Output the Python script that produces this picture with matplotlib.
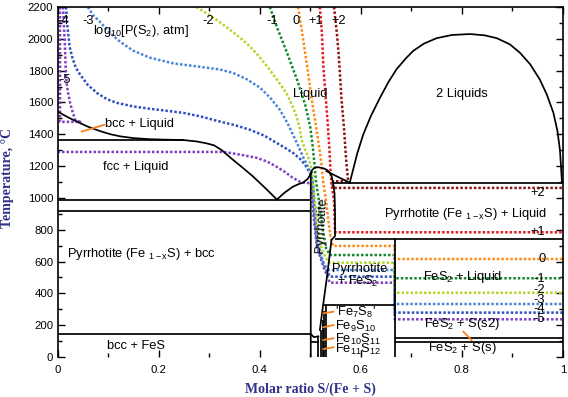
import matplotlib
matplotlib.use('Agg')
import matplotlib.pyplot as plt
from matplotlib.ticker import MultipleLocator, FixedLocator, FixedFormatter

plt.rcParams['font.family'] = ['Liberation Sans', 'DejaVu Sans']
plt.rcParams['mathtext.fontset'] = 'custom'
plt.rcParams['mathtext.rm'] = 'Liberation Sans'
plt.rcParams['mathtext.it'] = 'Liberation Sans:italic'
plt.rcParams['mathtext.bf'] = 'Liberation Sans:bold'

# ---------------- phase boundaries (x = S/(Fe+S), T in C) ----------------
liq_fe_x = [0.0, 0.02, 0.04, 0.06, 0.084, 0.105, 0.124, 0.15, 0.183, 0.215, 0.248, 0.275, 0.295,
            0.31, 0.325, 0.347, 0.367, 0.387, 0.41, 0.434]
liq_fe_t = [1543, 1508, 1477, 1448, 1420, 1400, 1387, 1376, 1369, 1366, 1364, 1355, 1343,
            1330, 1300, 1240, 1188, 1134, 1065, 990]
liq_pyr_x = [0.434, 0.45, 0.466, 0.478, 0.486, 0.495, 0.503]
liq_pyr_t = [990, 1035, 1071, 1088, 1096, 1120, 1160]
pyr_x = [0.501, 0.501, 0.504, 0.507, 0.510, 0.513, 0.517, 0.520, 0.527, 0.533, 0.538, 0.542, 0.545,
         0.548, 0.549, 0.549, 0.542, 0.534, 0.525, 0.519]
pyr_t = [0, 1160, 1176, 1186, 1191, 1193, 1192, 1190, 1185, 1176, 1160, 1140, 1094,
         1031, 900, 760, 736, 526, 316, 170]
liq_s_x = [0.532, 0.579]
liq_s_t = [1168, 1094]
dome_x = [0.578, 0.585, 0.593, 0.605, 0.620, 0.638, 0.655, 0.671, 0.690, 0.704, 0.725, 0.750, 0.780,
          0.816, 0.845, 0.869, 0.895, 0.915, 0.935, 0.954, 0.968, 0.981, 0.989, 0.994, 0.996, 0.998]
dome_t = [1094, 1180, 1280, 1400, 1515, 1630, 1730, 1810, 1880, 1925, 1970, 2004, 2024,
          2030, 2022, 2004, 1965, 1912, 1840, 1745, 1650, 1535, 1420, 1300, 1200, 1094]
iso_t = [1365, 990, 918, 145, 1094, 743, 327, 118, 96]
iso_x0 = [0.0, 0.0, 0.0, 0.0, 0.545, 0.549, 0.526, 0.667, 0.667]
iso_x1 = [0.25, 0.501, 0.501, 0.501, 1.0, 1.0, 0.667, 1.0, 1.0]
fes2_x = [0.667, 0.667]
fes2_t = [0, 743]
ord_x = [0.516, 0.522, 0.525, 0.528, 0.531]
ord_top = [128, 170, 233, 290, 327]
small_x = [0.501, 0.507, 0.516]
small_t = [145, 125, 130]
small2_x = [0.501, 0.516]
small2_t = [96, 96]

# ---------------- log10 P(S2) isobars ----------------
m5u_x = [0.005, 0.005, 0.045, 0.040, 0.035, 0.030, 0.025, 0.021, 0.018, 0.016, 0.015, 0.013, 0.011]
m5u_t = [2200, 1478, 1478, 1484, 1491, 1540, 1597, 1660, 1723, 1830, 1931, 2060, 2200]
m5_x = [0.0, 0.327, 0.341, 0.365, 0.394, 0.415, 0.434, 0.450, 0.463, 0.472, 0.480, 0.492, 0.503,
        0.506, 0.513, 0.526, 0.539, 0.667, 0.667, 1.0]
m5_t = [1289, 1289, 1283, 1270, 1252, 1228, 1195, 1163, 1132, 1115, 1101, 1094, 1092,
        904, 694, 568, 467, 467, 237, 237]
m4_x = [0.017, 0.019, 0.021, 0.024, 0.029, 0.036, 0.045, 0.060, 0.078, 0.098, 0.118, 0.150, 0.183,
        0.215, 0.248, 0.283, 0.316, 0.350, 0.381, 0.410, 0.430, 0.450, 0.466, 0.480, 0.490, 0.498, 0.503,
        0.505, 0.508, 0.514, 0.528, 0.539, 0.667, 0.667, 1.0]
m4_t = [2200, 2100, 2038, 1950, 1887, 1820, 1774, 1710, 1660, 1620, 1597, 1575, 1560,
        1548, 1535, 1512, 1484, 1458, 1428, 1390, 1352, 1315, 1283, 1245, 1208, 1165, 1126,
        1090, 906, 698, 572, 505, 505, 279, 279]
m3_x = [0.060, 0.070, 0.084, 0.103, 0.124, 0.150, 0.183, 0.230, 0.282, 0.320, 0.347, 0.375, 0.401,
        0.422, 0.440, 0.455, 0.466, 0.476, 0.484, 0.493, 0.500, 0.503,
        0.505, 0.509, 0.516, 0.527, 0.537, 0.667, 0.667, 1.0]
m3_t = [2200, 2150, 2107, 2040, 1981, 1925, 1881, 1845, 1824, 1808, 1786, 1745, 1692,
        1625, 1553, 1470, 1396, 1330, 1270, 1210, 1164, 1113,
        1090, 906, 698, 580, 547, 547, 333, 333]
m2_x = [0.275, 0.295, 0.315, 0.341, 0.362, 0.381, 0.400, 0.420, 0.437, 0.453, 0.464, 0.473, 0.479,
        0.483, 0.489, 0.496, 0.503, 0.505,
        0.509, 0.515, 0.523, 0.531, 0.537, 0.667, 0.667, 1.0]
m2_t = [2200, 2160, 2119, 2057, 2005, 1951, 1885, 1805, 1730, 1658, 1585, 1511, 1440,
        1365, 1310, 1258, 1176, 1113,
        987, 799, 673, 623, 593, 593, 404, 404]
m1_x = [0.420, 0.434, 0.454, 0.474, 0.490, 0.500, 0.505, 0.509, 0.511,
        0.517, 0.525, 0.531, 0.539, 0.667, 0.667, 1.0]
m1_t = [2200, 2075, 1912, 1742, 1585, 1447, 1321, 1195, 1113,
        987, 799, 686, 641, 641, 495, 495]
p0_x = [0.476, 0.484, 0.494, 0.503, 0.511, 0.517, 0.523, 0.525,
        0.531, 0.537, 0.541, 0.545, 0.667, 0.667, 1.0]
p0_t = [2200, 2038, 1824, 1616, 1459, 1333, 1195, 1113,
        987, 830, 736, 698, 698, 616, 616]
p1_x = [0.519, 0.523, 0.526, 0.531, 0.535, 0.538, 0.540, 0.542, 0.547, 0.549, 1.0]
p1_t = [2200, 2038, 1824, 1616, 1447, 1302, 1176, 1082, 987, 784, 784]
p2_x = [0.547, 0.553, 0.557, 0.562, 0.567, 0.571, 0.575, 0.545, 0.545, 1.0]
p2_t = [2200, 2025, 1868, 1616, 1428, 1239, 1105, 1105, 1063, 1063]

iso_colors = {'-5': '#8040c0', '-4': '#3050be', '-3': '#4a86d6', '-2': '#b4d62a',
              '-1': '#128a30', '0': '#ff8a18', '+1': '#e41e1e', '+2': '#8c1616'}

# label positions of isobars
top_lab = ['-4', '-3', '-2', '-1', '0', '+1', '+2']
top_lab_x = [0.011, 0.061, 0.298, 0.425, 0.472, 0.511, 0.557]
right_lab = ['+2', '+1', '0', '-1', '-2', '-3', '-4', '-5']
right_lab_t = [1030, 785, 616, 492, 420, 360, 302, 236]

# leader lines
lead_bcc_x = [0.048, 0.092]; lead_bcc_t = [1417, 1459]
lead_s2_x = [0.803, 0.819]; lead_s2_t = [159, 107]
lead_fe_t0 = [275, 187, 107, 50]
lead_fe_t1 = [285, 201, 118, 61]
fe_lab = ["'Fe$_7$S$_8$'", "Fe$_9$S$_{10}$", "Fe$_{10}$S$_{11}$", "Fe$_{11}$S$_{12}$"]
fe_lab_t = [280, 192, 112, 50]

fig = plt.figure(figsize=(5.68, 3.97), dpi=100)
ax = fig.add_axes([57.5 / 568, 40 / 397, 505.5 / 568, 350 / 397])
ax.set_xlim(0, 1)
ax.set_ylim(0, 2200)

dot = dict(linestyle=(0, (1, 0.8)), linewidth=1.8, dash_capstyle='butt')
lw = 1.25
for (xs, ts, key) in [(m5u_x, m5u_t, '-5'), (m5_x, m5_t, '-5'), (m4_x, m4_t, '-4'), (m3_x, m3_t, '-3'),
                      (m2_x, m2_t, '-2'), (m1_x, m1_t, '-1'), (p0_x, p0_t, '0'),
                      (p1_x, p1_t, '+1'), (p2_x, p2_t, '+2')]:
    ax.plot(xs, ts, color=iso_colors[key], zorder=2, **dot)

k = dict(color='black', linewidth=lw, zorder=3, solid_joinstyle='round')
ax.plot(liq_fe_x, liq_fe_t, **k)
ax.plot(liq_pyr_x, liq_pyr_t, **k)
ax.plot(pyr_x, pyr_t, **k)
ax.plot(liq_s_x, liq_s_t, **k)
ax.plot(dome_x, dome_t, **k)
ax.hlines(iso_t, iso_x0, iso_x1, color='black', linewidth=lw, zorder=3)
ax.plot(fes2_x, fes2_t, **k)
ax.vlines(ord_x, 0, ord_top, color='black', linewidth=lw, zorder=3)
ax.plot(small_x, small_t, **k)
ax.plot(small2_x, small2_t, **k)

orange = '#f7801e'
ax.plot(lead_bcc_x, lead_bcc_t, color=orange, linewidth=1.3, zorder=4)
ax.plot(lead_s2_x, lead_s2_t, color=orange, linewidth=1.3, zorder=4)
for t0, t1 in zip(lead_fe_t0, lead_fe_t1):
    ax.plot([0.526, 0.546], [t0, t1], color=orange, linewidth=1.3, zorder=4)

fs = 9.3
T = dict(fontsize=fs, color='black', zorder=5)
ax.text(0.070, 2050, 'log$_{10}$[P(S$_2$), atm]', ha='left', va='center', **T)
for lab, x in zip(top_lab, top_lab_x):
    ax.text(x, 2115, lab, ha='center', va='center', **T)
ax.text(0.015, 1742, '-5', ha='center', va='center', **T)
for lab, t in zip(right_lab, right_lab_t):
    ax.text(0.965, t, lab, ha='right', va='center', **T)
ax.text(0.5, 1654, 'Liquid', ha='center', va='center', **T)
ax.text(0.8, 1652, '2 Liquids', ha='center', va='center', **T)
ax.text(0.094, 1465, 'bcc + Liquid', ha='left', va='center', **T)
ax.text(0.090, 1197, 'fcc + Liquid', ha='left', va='center', **T)
ax.text(0.018, 648, 'Pyrrhotite (Fe $_{\\mathregular{1-x}}$S) + bcc', ha='left', va='center', **T)
ax.text(0.0985, 71, 'bcc + FeS', ha='left', va='center', **T)
ax.text(0.6465, 897, 'Pyrrhotite (Fe $_{\\mathregular{1-x}}$S) + Liquid', ha='left', va='center', **T)
ax.text(0.7225, 505, 'FeS$_2$ + Liquid', ha='left', va='center', **T)
ax.text(0.725, 205, 'FeS$_2$ + S(s2)', ha='left', va='center', **T)
ax.text(0.732, 58, 'FeS$_2$ + S(s)', ha='left', va='center', **T)
ax.text(0.5425, 552, 'Pyrrhotite', ha='left', va='center', **T)
ax.text(0.552, 476, '+ FeS$_2$', ha='left', va='center', **T)
ax.text(0.523, 830, 'Pyrrhotite', ha='center', va='center', rotation=87, **T)
for lab, t in zip(fe_lab, fe_lab_t):
    ax.text(0.549, t, lab, ha='left', va='center', **T)

for s in ['left', 'right', 'top', 'bottom']:
    ax.spines[s].set_linewidth(1.2)
ax.spines['bottom'].set_visible(False)
ax.xaxis.set_major_locator(FixedLocator([0, 0.2, 0.4, 0.6, 0.8, 1.0]))
ax.xaxis.set_major_formatter(FixedFormatter(['0', '0.2', '0.4', '0.6', '0.8', '1']))
ax.xaxis.set_minor_locator(MultipleLocator(0.1))
ax.yaxis.set_major_locator(MultipleLocator(200))
ax.yaxis.set_minor_locator(MultipleLocator(100))
ax.tick_params(which='both', direction='in', top=True, right=True, labelsize=8.2, width=1.0)
ax.tick_params(which='major', length=5)
ax.tick_params(which='minor', length=3)
ax.tick_params(axis='x', pad=6)
ax.tick_params(axis='y', pad=3)

lab_col = '#30308c'
fig.text(7.5 / 568, 1 - 178 / 397, 'Temperature, \u00b0C', rotation=90, ha='center', va='center',
         fontsize=10, fontweight='bold', family='Liberation Serif', color=lab_col)
fig.text(310 / 568, 1 - 389 / 397, 'Molar ratio S/(Fe + S)', ha='center', va='center',
         fontsize=10, fontweight='bold', family='Liberation Serif', color=lab_col)

fig.savefig('out.png', dpi=100)
